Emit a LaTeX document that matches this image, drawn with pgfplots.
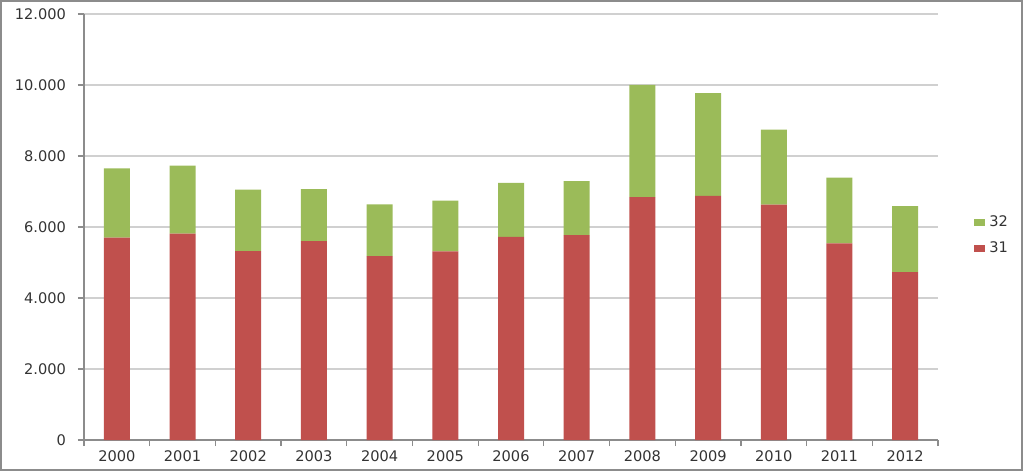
\documentclass[border=0pt]{standalone}
\usepackage{pgfplots}
\pgfplotsset{compat=1.18}
\usepackage{fontspec}
\setmainfont{DejaVu Sans}
\definecolor{cred}{HTML}{C0504D}
\definecolor{cgreen}{HTML}{9BBB59}
\definecolor{gridc}{HTML}{D0D0D0}
\definecolor{axc}{HTML}{8C8C8C}
\begin{document}
\begin{tikzpicture}
\begin{axis}[
  name=ax,
  scale only axis,
  width=427pt, height=213pt,
  ybar stacked,
  bar width=13pt,
  xmin=-0.5, xmax=12.5,
  ymin=0, ymax=12000,
  scaled y ticks=false,
  ytick={0,2000,4000,6000,8000,10000,12000},
  yticklabels={0,2.000,4.000,6.000,8.000,10.000,12.000},
  xtick={0,...,12},
  xticklabels={2000,2001,2002,2003,2004,2005,2006,2007,2008,2009,2010,2011,2012},
  minor xtick={-0.5,0.5,...,12.5},
  major x tick style={draw=none},
  minor x tick style={draw=axc, line width=0.6pt},
  minor tick length=3pt,
  major tick length=3pt,
  y tick style={draw=axc, line width=0.6pt},
  tick align=outside,
  axis x line*=bottom,
  axis y line*=left,
  axis line style={draw=axc, line width=0.7pt},
  ymajorgrids,
  grid style={draw=gridc, line width=0.7pt},
  tick label style={font=\fontsize{7.3}{8}\selectfont, text=black!80},
  yticklabel style={xshift=-2.5pt},
  xticklabel style={yshift=1pt},
  legend style={at={(1.035,0.48)}, anchor=west, draw=none, fill=none,
    font=\fontsize{7.3}{8}\selectfont, text=black!80, row sep=2pt,
    /tikz/every even column/.append style={column sep=2pt}},
  legend cell align=left,
  reverse legend,
  legend image code/.code={\fill[#1] (0pt,-1.8pt) rectangle (5.5pt,1.8pt);},
]
\addplot+[fill=cred, draw=none] coordinates {
(0,5700) (1,5810) (2,5320) (3,5600) (4,5180) (5,5310) (6,5720)
(7,5770) (8,6840) (9,6880) (10,6630) (11,5540) (12,4730)};
\addplot+[fill=cgreen, draw=none] coordinates {
(0,1950) (1,1920) (2,1730) (3,1470) (4,1460) (5,1430) (6,1520)
(7,1520) (8,3160) (9,2890) (10,2110) (11,1850) (12,1860)};
\legend{31,32}
\end{axis}
\draw[color=axc, line width=1pt] ([shift={(-41.5pt,-15pt)}]ax.south west) rectangle ([shift={(42pt,6.5pt)}]ax.north east);
\end{tikzpicture}
\end{document}
